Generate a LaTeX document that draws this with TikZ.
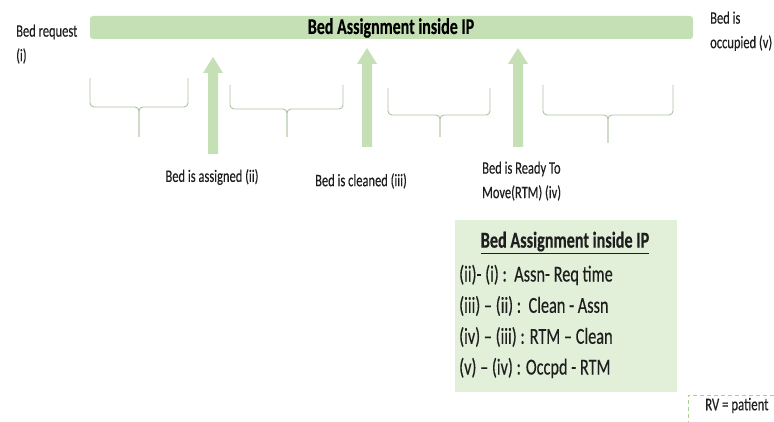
\documentclass[tikz,border=0pt]{standalone}
\usepackage{fontspec}
\setmainfont{Carlito}[FakeBold=0.35]
\definecolor{barGreen}{HTML}{C5E0B4}
\definecolor{boxGreen}{HTML}{E2EFD9}
\definecolor{braceGreen}{HTML}{AFC3A2}
\definecolor{dashGreen}{HTML}{A9D18E}
\definecolor{ink}{HTML}{1E1E1E}
% text is set slightly tall and narrow
\newcommand{\tallbox}[1]{\scalebox{1}[1.4]{#1}}
\newcommand{\twolines}[2]{\tallbox{\begin{tabular}{@{}l@{}}#1\\#2\end{tabular}}}
\tikzset{
  lbl/.style={inner sep=0pt, text=ink, font=\fontsize{12.5}{17.5}\selectfont},
  sumline/.style={inner sep=0pt, anchor=west, text=ink, font=\fontsize{16.3}{19}\selectfont},
  brace/.style={draw=braceGreen, line width=0.9pt, rounded corners=4pt},
  uparrow/.style={fill=barGreen, draw=none},
}
% upward block arrow: centre x, tip y, bottom y
\newcommand{\blockup}[3]{%
  \fill[uparrow] (#1-5,#3) -- (#1-5,#2+16) -- (#1-10,#2+16) -- (#1,#2)
    -- (#1+10,#2+16) -- (#1+5,#2+16) -- (#1+5,#3) -- cycle;}
% interval brace: left x, right x, top y, bar y, tip x, tip y
\newcommand{\spanbrace}[6]{%
  \draw[brace] (#1,#3) -- (#1,#4) -- (#5,#4) -- (#5,#6);
  \draw[brace] (#2,#3) -- (#2,#4) -- (#5,#4) -- (#5,#6);}
\begin{document}
\begin{tikzpicture}[x=1pt,y=-1pt]
\useasboundingbox (0,0) rectangle (774,422);
\fill[white] (0,0) rectangle (774,422);

% main phase bar
\fill[barGreen, rounded corners=3pt] (90,16) rectangle (693,39);
\node[inner sep=0pt, text=black, font=\fontsize{16}{19}\selectfont\bfseries] (bar) at (391,28) {\tallbox{Bed Assignment inside IP}};

% event markers
\blockup{213}{57}{154}
\blockup{367}{48}{147}
\blockup{518}{48}{147}

% intervals between events
\spanbrace{90}{188}{78}{107}{139}{137}
\spanbrace{230}{343}{85}{109}{287}{137}
\spanbrace{388}{490}{88}{115}{440}{137}
\spanbrace{543}{673}{85}{115}{608}{143}

% event labels
\node[lbl, anchor=west] (req) at (16,44) {\twolines{Bed request}{(i)}};
\node[lbl] (assigned) at (212,177) {\tallbox{Bed is assigned (ii)}};
\node[lbl] (cleaned) at (361,181) {\tallbox{Bed is cleaned (iii)}};
\node[lbl, anchor=west] (rtm) at (482,181) {\twolines{Bed is Ready To}{Move(RTM) (iv)}};
\node[lbl, anchor=west] (occ) at (710,31) {\twolines{Bed is}{occupied (v)}};

% summary box
\fill[boxGreen] (455,220) rectangle (677,392);
\node[inner sep=0pt, text=ink, font=\fontsize{16.2}{19}\selectfont\bfseries] (sumtitle) at (565,243) {\tallbox{\underline{Bed Assignment inside IP}}};
\node[sumline] (s1) at (459,275) {\tallbox{(ii)- (i) :\ \ Assn- Req time}};
\node[sumline] (s2) at (459,306) {\tallbox{(iii) -- (ii) :\ \ Clean - Assn}};
\node[sumline] (s3) at (459,337) {\tallbox{(iv) -- (iii) : RTM -- Clean}};
\node[sumline] (s4) at (459,368) {\tallbox{(v) -- (iv) : Occpd - RTM}};

% legend
\draw[dashGreen, line width=1pt, dash pattern=on 4pt off 3pt] (774,395) -- (688,395) -- (688,422);
\node[lbl, anchor=west, font=\fontsize{12.8}{14}\selectfont] (rv) at (705,405.5) {\tallbox{RV = patient}};
\end{tikzpicture}
\end{document}
